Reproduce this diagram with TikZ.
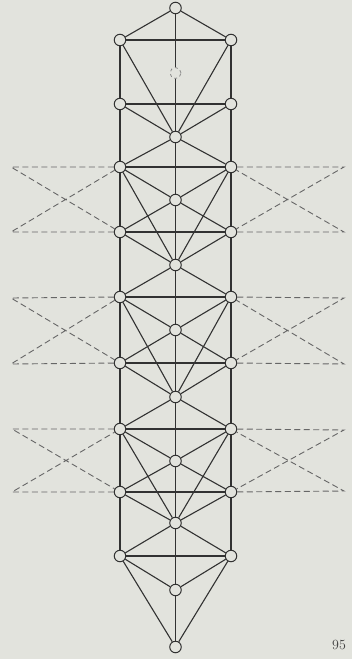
\documentclass[tikz,border=0pt]{standalone}
\usepackage{tikz}
\usetikzlibrary{positioning}
\definecolor{paper}{RGB}{226,227,221}
\definecolor{ink}{RGB}{50,50,50}
\tikzset{
  nd/.style={circle,draw=ink,fill=paper,minimum size=11.5pt,inner sep=0pt,line width=1pt},
  ndd/.style={circle,draw=black!45,fill=paper,minimum size=11pt,inner sep=0pt,line width=.8pt,dashed},
  lnk/.style={draw=ink,line width=1.1pt},
  dsh/.style={draw=black!60,line width=.9pt,dash pattern=on 6pt off 3.5pt},
  pg/.style={font=\fontsize{14}{16}\selectfont,text=black!75},
}
\begin{document}
\begin{tikzpicture}[x=1pt,y=-1pt]
\fill[paper] (0,0) rectangle (352,659);
% ---------- middle column ----------
\node[nd] (c0) at (175.5,8) {};    \node[ndd] (c1) at (175.5,73) {};
\node[nd] (c2) at (175.5,137) {};  \node[nd] (c3) at (175.5,200) {};
\node[nd] (c4) at (175.5,265) {};  \node[nd] (c5) at (175.5,330) {};
\node[nd] (c6) at (175.5,397) {};  \node[nd] (c7) at (175.5,461) {};
\node[nd] (c8) at (175.5,523) {};  \node[nd] (c9) at (175.5,590) {};
\node[nd] (c10) at (175.5,647) {};
% ---------- side columns ----------
\node[nd] (l1) at (120,40) {};  \node[nd] (r1) at (231,40) {};
\node[nd] (l2) at (120,104) {}; \node[nd] (r2) at (231,104) {};
\node[nd] (l3) at (120,167) {}; \node[nd] (r3) at (231,167) {};
\node[nd] (l4) at (120,232) {}; \node[nd] (r4) at (231,232) {};
\node[nd] (l5) at (120,297) {}; \node[nd] (r5) at (231,297) {};
\node[nd] (l6) at (120,363) {}; \node[nd] (r6) at (231,363) {};
\node[nd] (l7) at (120,429) {}; \node[nd] (r7) at (231,429) {};
\node[nd] (l8) at (120,492) {}; \node[nd] (r8) at (231,492) {};
\node[nd] (l9) at (120,556) {}; \node[nd] (r9) at (231,556) {};
% ---------- uprights and rungs ----------
\draw[lnk] (c0)--(c1) (c1)--(c2) (c2)--(c3) (c3)--(c4) (c4)--(c5)
           (c5)--(c6) (c6)--(c7) (c7)--(c8) (c8)--(c9) (c9)--(c10);
\draw[lnk] (l1)--(l2) (l2)--(l3) (l3)--(l4) (l4)--(l5) (l5)--(l6)
           (l6)--(l7) (l7)--(l8) (l8)--(l9);
\draw[lnk] (r1)--(r2) (r2)--(r3) (r3)--(r4) (r4)--(r5) (r5)--(r6)
           (r6)--(r7) (r7)--(r8) (r8)--(r9);
\draw[lnk] (l1)--(r1) (l2)--(r2) (l3)--(r3) (l4)--(r4) (l5)--(r5)
           (l6)--(r6) (l7)--(r7) (l8)--(r8) (l9)--(r9);
% ---------- short diagonals ----------
\draw[lnk] (c0)--(l1) (c0)--(r1)
           (l2)--(c2) (r2)--(c2) (c2)--(l3) (c2)--(r3)
           (l3)--(c3) (r3)--(c3) (c3)--(l4) (c3)--(r4)
           (l4)--(c4) (r4)--(c4) (c4)--(l5) (c4)--(r5)
           (l5)--(c5) (r5)--(c5) (c5)--(l6) (c5)--(r6)
           (l6)--(c6) (r6)--(c6) (c6)--(l7) (c6)--(r7)
           (l7)--(c7) (r7)--(c7) (c7)--(l8) (c7)--(r8)
           (l8)--(c8) (r8)--(c8) (c8)--(l9) (c8)--(r9)
           (l9)--(c9) (r9)--(c9);
% ---------- long diagonals ----------
\draw[lnk] (l1)--(c2) (r1)--(c2) (l3)--(c4) (r3)--(c4)
           (l5)--(c6) (r5)--(c6) (l7)--(c8) (r7)--(c8)
           (l9)--(c10) (r9)--(c10);
% ---------- dashed wings ----------
\coordinate (wl3) at (11,167); \coordinate (wl4) at (11,232);
\coordinate (wr3) at (344,167); \coordinate (wr4) at (344,232);
\coordinate (wl5) at (11,298); \coordinate (wl6) at (11,364);
\coordinate (wr5) at (344,298); \coordinate (wr6) at (344,364);
\coordinate (wl7) at (12,429); \coordinate (wl8) at (12,492);
\coordinate (wr7) at (344,430); \coordinate (wr8) at (344,491);
\draw[dsh] (l3)--(wl3)--(l4) (l4)--(wl4)--(l3)
           (r3)--(wr3)--(r4) (r4)--(wr4)--(r3);
\draw[dsh] (l5)--(wl5)--(l6) (l6)--(wl6)--(l5)
           (r5)--(wr5)--(r6) (r6)--(wr6)--(r5);
\draw[dsh] (l7)--(wl7)--(l8) (l8)--(wl8)--(l7)
           (r7)--(wr7)--(r8) (r8)--(wr8)--(r7);
\node[pg] (pno) at (339,645) {95};
\end{tikzpicture}
\end{document}
